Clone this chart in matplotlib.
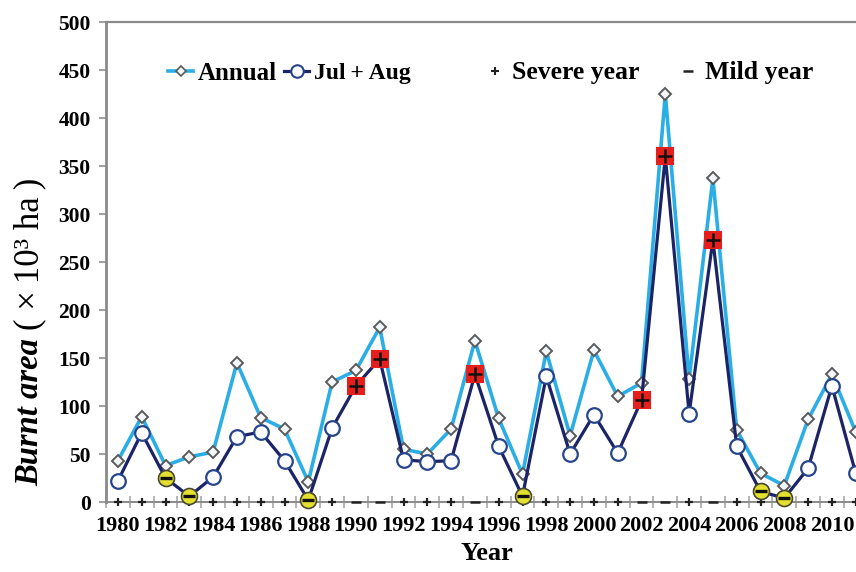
import matplotlib
matplotlib.use("Agg")
import matplotlib.pyplot as plt
from matplotlib.lines import Line2D
import numpy as np

years = list(range(1980, 2012))
annual = [43, 89, 38, 47, 52, 145, 88, 76, 21, 125, 137, 182, 55, 50, 76, 168,
          87, 29, 157, 69, 158, 110, 124, 425, 128, 337, 75, 30, 17, 86, 133, 73]
julaug = [22, 72, 25, 6, 26, 68, 73, 43, 2, 77, 121, 149, 44, 42, 43, 133,
          58, 6, 131, 50, 91, 51, 106, 360, 92, 273, 58, 11, 4, 35, 121, 30]
severe_years = [1990, 1991, 1995, 2002, 2003, 2005]
mild_years = [1982, 1983, 1988, 1997, 2007, 2008]
yticks = list(range(0, 501, 50))
xticks = list(range(1980, 2011, 2))

SERIF = ["Liberation Serif", "DejaVu Serif"]
plt.rcParams["font.family"] = SERIF

W, H = 856, 572
fig = plt.figure(figsize=(W / 100, H / 100), dpi=100)
px_year = 23.8
left, bottom, top = 106, 70, 550
ax = fig.add_axes([left / W, bottom / H, 32 * px_year / W, (top - bottom) / H])

light = "#2BAEE6"
navy = "#1B2466"
circ_edge = "#27458C"

ax.plot(years, annual, color=light, lw=2.6, zorder=3,
        marker="D", ms=6.5, mfc="#F4F7FA", mec="#5A5A5A", mew=1.4)
ax.plot(years, julaug, color=navy, lw=2.3, zorder=4,
        marker="o", ms=10.5, mfc="white", mec=circ_edge, mew=1.6)

# Bottom row markers: '+' for other years, '-' for severe years
other = [y for y in years if y not in severe_years]
ax.plot(other, [0] * len(other), ls="none", marker="+", ms=6, mew=1.6,
        color="#222222", zorder=5, clip_on=False)
ax.plot(severe_years, [0] * len(severe_years), ls="none", marker="_", ms=7,
        mew=1.8, color="#222222", zorder=5, clip_on=False)

sev_vals = [julaug[years.index(y)] for y in severe_years]
mild_vals = [julaug[years.index(y)] for y in mild_years]
ax.plot(severe_years, sev_vals, ls="none", marker="s", ms=11.5, mfc="#E5201C",
        mec="#E5201C", mew=1.5, zorder=6)
ax.plot(severe_years, sev_vals, ls="none", marker="+", ms=10, mew=1.8,
        color="#111111", zorder=7)
ax.plot(mild_years, mild_vals, ls="none", marker="o", ms=11.5, mfc="#E4E030",
        mec="#4A4A30", mew=1.2, zorder=6, clip_on=False)
ax.plot(mild_years, mild_vals, ls="none", marker="_", ms=8, mew=2.4,
        color="#111111", zorder=7, clip_on=False)

ax.set_xlim(1979.5, 2011.5)
ax.set_ylim(0, 500)
ax.set_yticks(yticks)
ax.set_yticklabels([str(v) for v in yticks], fontsize=15.5, fontweight="bold")
ax.set_xticks(xticks)
ax.set_xticklabels([str(v) for v in xticks], fontsize=16, fontweight="bold")
ax.set_xticks(np.arange(1979.5, 2012, 1.0), minor=True)
ax.tick_params(axis="x", which="major", length=0, pad=10)
ax.tick_params(axis="x", which="minor", length=8, direction="inout",
               color="#A8A8A8", width=1.2)
ax.tick_params(axis="y", length=5, width=1.2, color="#909090", pad=6)

for s in ["left", "top", "bottom"]:
    ax.spines[s].set_color("#8A8A8A")
ax.spines["left"].set_linewidth(2)
ax.spines["top"].set_linewidth(1.6)
ax.spines["bottom"].set_linewidth(1.4)
ax.spines["right"].set_visible(False)

# Legend entries placed individually
entries = [
    (Line2D([], [], color=light, lw=2.6, marker="D", ms=5.5, mfc="#F4F7FA",
            mec="#5A5A5A", mew=1.2), "Annual", 168, 18),
    (Line2D([], [], color=navy, lw=2.3, marker="o", ms=9, mfc="white",
            mec=circ_edge, mew=1.5), "Jul\u2009+\u2009Aug", 284, 17),
    (Line2D([], [], ls="none", marker="+", ms=6, mew=1.5, color="#222222"),
     "Severe year", 482, 18.5),
    (Line2D([], [], ls="none", marker="_", ms=7, mew=1.8, color="#222222"),
     "Mild year", 675, 18.5),
]
for h, lab, x0, fs in entries:
    fig.legend([h], [lab], loc="center left",
               bbox_to_anchor=(x0 / W, 1 - 73 / H),
               frameon=False, handlelength=18 / fs, handletextpad=0.2 * 18 / fs,
               borderpad=0, borderaxespad=0,
               prop={"family": SERIF, "weight": "bold", "size": fs})

fig.text(487 / W, 1 - 554 / H, "Year", ha="center", va="center",
         fontsize=19, fontweight="bold")

# y label: bold-italic part followed by regular part, contiguous
t1 = fig.text(30 / W, 1 - 486 / H, "Burnt area", rotation=90,
              rotation_mode="anchor", ha="left", va="center",
              fontsize=23.5, fontweight="bold", fontstyle="italic")
fig.canvas.draw()
ext = t1.get_window_extent(renderer=fig.canvas.get_renderer())
t2 = fig.text(30 / W, (ext.y1 + 8) / H, "( ×\u200910³ ha\u2009)", rotation=90,
              rotation_mode="anchor", ha="left", va="center", fontsize=25)

fig.savefig("out.png", dpi=100)
